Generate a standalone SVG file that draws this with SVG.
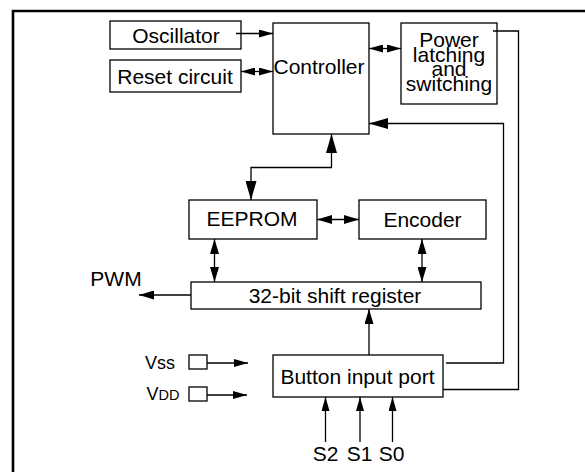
<svg xmlns="http://www.w3.org/2000/svg" width="585" height="472" viewBox="0 0 585 472">
<style>
.box{fill:#fff;stroke:#000;stroke-width:1.3}
.t{font-family:"Liberation Sans",Arial,sans-serif;font-size:21px;fill:#000;text-anchor:middle}
.c{fill:none;stroke:#000;stroke-width:1.3}
</style>
<defs>
<marker id="a" markerUnits="userSpaceOnUse" viewBox="0 0 14 8" refX="14" refY="4" markerWidth="14" markerHeight="8" orient="auto-start-reverse"><path d="M0,0L14,4L0,8z"/></marker>
<marker id="b" markerUnits="userSpaceOnUse" viewBox="0 0 15 9" refX="15" refY="4.5" markerWidth="15" markerHeight="9" orient="auto-start-reverse"><path d="M0,0L15,4.5L0,9z"/></marker>
<marker id="c" markerUnits="userSpaceOnUse" viewBox="0 0 19 11" refX="19" refY="5.5" markerWidth="19" markerHeight="11" orient="auto-start-reverse"><path d="M0,0L19,5.5L0,11z"/></marker>
</defs>
<rect width="585" height="472" fill="#fff"/>
<path d="M13,472V11H585" fill="none" stroke="#000" stroke-width="2.6"/>

<g id="oscillator"><rect class="box" x="110" y="21" width="131" height="28"/><text class="t" x="176" y="43">Oscillator</text></g>
<g id="reset"><rect class="box" x="110" y="60" width="131" height="32"/><text class="t" x="175" y="84">Reset circuit</text></g>
<g id="controller"><rect class="box" x="273" y="23" width="96" height="111"/><text class="t" x="319" y="73.5">Controller</text></g>
<g id="power"><rect class="box" x="401" y="23" width="96" height="81"/>
<text class="t" x="449" y="46.5">Power</text><text class="t" x="449" y="61.5">latching</text><text class="t" x="449" y="75.5">and</text><text class="t" x="449" y="90.5">switching</text></g>
<g id="eeprom"><rect class="box" x="189" y="200" width="128" height="39"/><text class="t" x="252" y="226">EEPROM</text></g>
<g id="encoder"><rect class="box" x="359" y="200" width="127" height="39"/><text class="t" x="422.5" y="227">Encoder</text></g>
<g id="shift"><rect class="box" x="191" y="282" width="290" height="27"/><text class="t" x="335" y="303">32-bit shift register</text></g>
<g id="button"><rect class="box" x="273" y="355" width="170" height="42"/><text class="t" x="357.5" y="383.5">Button input port</text></g>
<g id="pwm"><text class="t" x="116" y="286">PWM</text></g>
<g id="vss"><text class="t" x="160" y="369" style="font-size:18px">Vss</text><rect class="box" x="189" y="355" width="18" height="14"/></g>
<g id="vdd"><text class="t" x="163" y="400" style="font-size:18px">V<tspan style="font-size:14.5px">DD</tspan></text><rect class="box" x="189" y="387" width="18" height="14"/></g>
<g id="s2"><text class="t" x="325.5" y="461">S2</text></g>
<g id="s1"><text class="t" x="359.5" y="461">S1</text></g>
<g id="s0"><text class="t" x="391.5" y="461">S0</text></g>

<g id="connectors">
<path class="c" d="M236,33.5H273" marker-end="url(#a)"/>
<path class="c" d="M241,71.5H273" marker-start="url(#a)" marker-end="url(#a)"/>
<path class="c" d="M369,48.5H401" marker-start="url(#a)" marker-end="url(#a)"/>
<path class="c" d="M493,31H518.5V389.5H443"/>
<path class="c" d="M446,363H503.5V123.5H369" marker-end="url(#c)"/>
<path class="c" d="M331.5,134V167.5H251V200" marker-start="url(#c)" marker-end="url(#c)"/>
<path class="c" d="M317,219.5H359" marker-start="url(#b)" marker-end="url(#b)"/>
<path class="c" d="M214.5,239V282" marker-start="url(#b)" marker-end="url(#b)"/>
<path class="c" d="M422,239V282" marker-start="url(#b)" marker-end="url(#b)"/>
<path class="c" d="M191,295H139" marker-end="url(#b)"/>
<path class="c" d="M369,355V309" marker-end="url(#b)"/>
<path class="c" d="M325.5,442V397" marker-end="url(#a)"/>
<path class="c" d="M360,442V397" marker-end="url(#a)"/>
<path class="c" d="M392.5,442V397" marker-end="url(#a)"/>
<path class="c" d="M207,363H248" marker-end="url(#a)"/>
<path class="c" d="M207,395H247" marker-end="url(#a)"/>
</g>
</svg>
